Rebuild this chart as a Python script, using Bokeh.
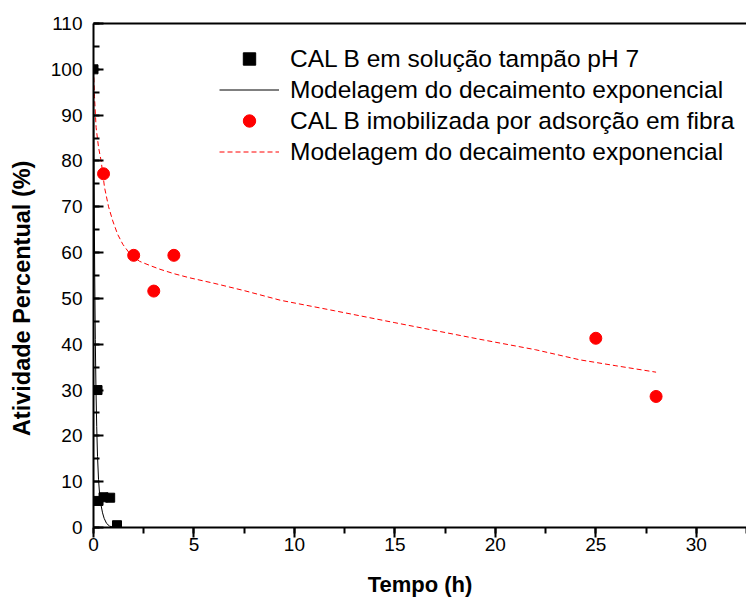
from bokeh.plotting import figure
from bokeh.models import (Range1d, SingleIntervalTicker, LinearAxis, FixedTicker,
                          Legend, LegendItem)
from bokeh.embed import file_html
from bokeh.resources import INLINE

# --- data ---
buffer_t = [0, 0.2, 0.25, 0.5, 0.83, 1.17]
buffer_act = [100, 30, 5.8, 6.6, 6.5, 0.5]

buffer_fit_t = [0, 0.03, 0.06, 0.09, 0.12, 0.16, 0.2, 0.25, 0.3, 0.37, 0.45, 0.53, 0.65, 0.8, 1.0, 1.17]
buffer_fit_act = [100, 75, 55, 41, 31, 22, 15.5, 10.5, 7.5, 5, 3.2, 2, 0.9, 0.3, 0.05, 0.0]

fiber_t = [0.5, 2, 3, 4, 25, 28]
fiber_act = [77.2, 59.4, 51.6, 59.4, 41.3, 28.6]

fiber_fit_t = [0, 0.05, 0.13, 0.25, 0.38, 0.55, 0.75, 0.96, 1.2, 1.46, 1.8, 2.29, 2.8, 3.28, 4.0, 4.78, 6.0, 7.5, 9.3, 12, 15, 19.2, 22, 24.2, 26, 28]
fiber_fit_act = [100, 94, 87.3, 83, 80, 74.2, 70, 66.9, 64, 61.8, 59.8, 58.1, 57.2, 56.4, 55.4, 54.5, 53.3, 51.7, 49.6, 47.3, 44.7, 41.1, 38.8, 36.6, 35.3, 33.9]

x_ticks_major = 5
y_ticks_major = 10

FONT = "Liberation Sans"
NBSP = "\u00a0"

p = figure(width=746, height=601, output_backend="svg", toolbar_location=None,
           x_range=Range1d(0, 32.5), y_range=Range1d(0, 110),
           min_border_left=93, min_border_right=0, min_border_top=23, min_border_bottom=74)
p.outline_line_color = None
p.xgrid.visible = False
p.ygrid.visible = False
p.background_fill_color = "white"

# axes styling
xa = p.xaxis[0]
xa.ticker = SingleIntervalTicker(interval=x_ticks_major, num_minor_ticks=2)
xa.major_tick_out = 10
xa.major_tick_in = 0
xa.minor_tick_out = 6
xa.minor_tick_in = 0
xa.axis_line_width = 2
xa.major_tick_line_width = 2
xa.minor_tick_line_width = 2
xa.major_label_text_font = FONT
xa.major_label_text_font_size = "19px"
xa.major_label_text_color = "black"
xa.major_label_standoff = 0
xa.axis_label = "Tempo (h)"
xa.axis_label_text_font = FONT
xa.axis_label_text_font_style = "bold"
xa.axis_label_text_font_size = "22px"
xa.axis_label_text_color = "black"
xa.axis_label_standoff = 18

ya = p.yaxis[0]
ya.ticker = SingleIntervalTicker(interval=y_ticks_major, num_minor_ticks=2)
ya.major_tick_in = 10
ya.major_tick_out = 0
ya.minor_tick_in = 6
ya.minor_tick_out = 0
ya.axis_line_width = 2
ya.major_tick_line_width = 2
ya.minor_tick_line_width = 2
ya.major_label_text_font = FONT
ya.major_label_text_font_size = "19px"
ya.major_label_text_color = "black"
ya.major_label_standoff = 11
ya.axis_label = "Atividade Percentual (%)" + NBSP * 7
ya.axis_label_text_font = FONT
ya.axis_label_text_font_style = "bold"
ya.axis_label_text_font_size = "23.5px"
ya.axis_label_text_color = "black"
ya.axis_label_standoff = 13

top = LinearAxis(ticker=FixedTicker(ticks=[]), axis_line_width=2,
                 major_tick_line_color=None, minor_tick_line_color=None,
                 major_label_text_font_size="0px")
p.add_layout(top, "above")

# glyphs
r_fiber_fit = p.line(fiber_fit_t, fiber_fit_act, line_color="red", line_width=1, line_dash="5 3")
r_buffer_fit = p.line(buffer_fit_t, buffer_fit_act, line_color="black", line_width=1)
r_fiber = p.scatter(fiber_t, fiber_act, marker="circle", size=12, fill_color="red", line_color="red")
r_buffer = p.scatter(buffer_t, buffer_act, marker="square", size=9, fill_color="black", line_color="black")

legend = Legend(items=[
    LegendItem(label="CAL B em solução tampão pH 7", renderers=[r_buffer]),
    LegendItem(label="Modelagem do decaimento exponencial", renderers=[r_buffer_fit]),
    LegendItem(label="CAL B imobilizada por adsorção em fibra", renderers=[r_fiber]),
    LegendItem(label="Modelagem do decaimento exponencial", renderers=[r_fiber_fit]),
], location=(126, 360))
legend.border_line_color = None
legend.background_fill_alpha = 0
legend.padding = 0
legend.margin = 0
legend.spacing = 0
legend.glyph_width = 60
legend.glyph_height = 31
legend.label_height = 31
legend.label_standoff = 11
legend.label_text_font = FONT
legend.label_text_font_size = "24.5px"
legend.label_text_color = "black"
p.add_layout(legend, "center")

open("out.html", "w").write(file_html(p, INLINE))
